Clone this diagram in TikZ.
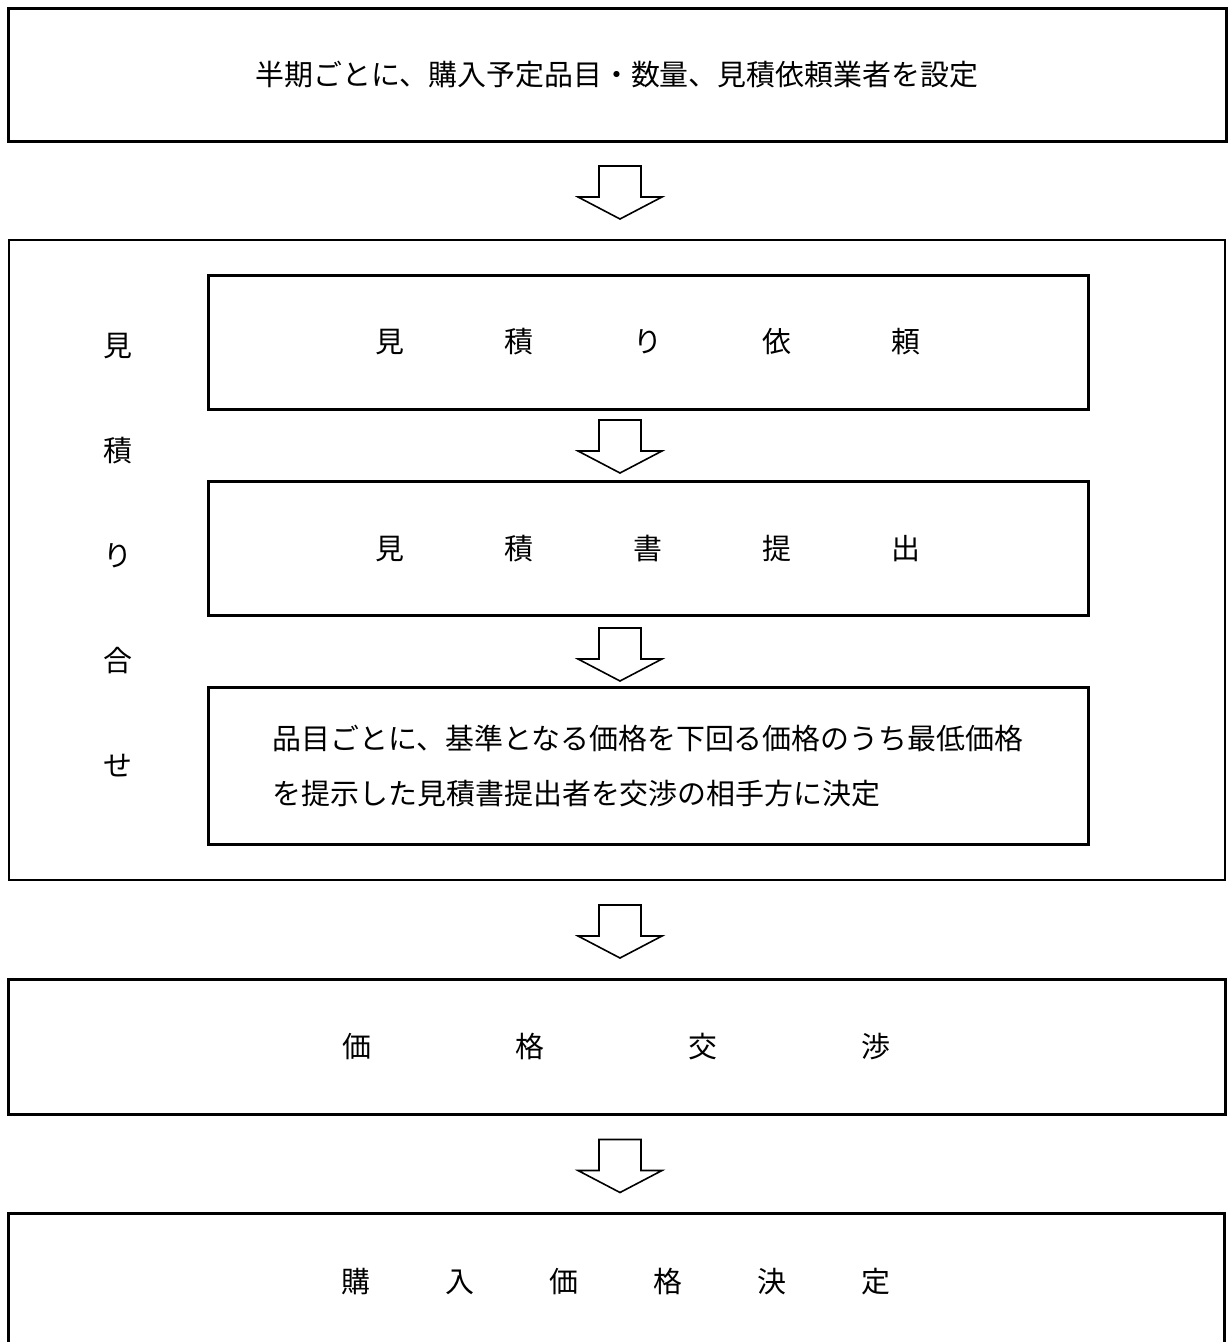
\documentclass[tikz,border=0pt]{standalone}
\usepackage{fontspec}
\newfontfamily\jp{Noto Sans CJK JP}
\usepackage{tikz}
\usetikzlibrary{positioning,calc}

\tikzset{
  bigbox/.style={draw, line width=2.25pt, rectangle, minimum width=913.5pt, minimum height=99.75pt, inner sep=0pt},
  stepbox/.style={draw, line width=2.25pt, rectangle, minimum width=660pt, minimum height=100.5pt, inner sep=0pt},
  groupbox/.style={draw, line width=1pt, rectangle, minimum width=912pt, minimum height=480pt, inner sep=0pt},
  arrowshape/.style={draw, line width=1.2pt, fill=white, line join=miter}
}
% block arrow, centred on a named coordinate
\newcommand{\flowarrow}[1]{\draw[arrowshape] ($(#1)+(-21,-26.5)$) -- ++(0,31) -- ++(-21,0) -- ++(42,22) -- ++(42,-22) -- ++(-21,0) -- ++(0,-31) -- cycle;}

\begin{document}
\begin{tikzpicture}[x=0.75pt, y=-0.75pt, font=\jp\fontsize{21.7pt}{26pt}\selectfont]
\useasboundingbox (0,0) rectangle (1228,1342);
\clip (0,0) rectangle (1228,1342);
\fill[white] (0,0) rectangle (1228,1342);

\node[bigbox] (plan) at (617,74.5) {半期ごとに、購入予定品目・数量、見積依頼業者を設定};

\node[groupbox] (group) at (617,560) {};
\node[align=center, inner sep=0pt, font=\jp\fontsize{21.7pt}{78.75pt}\selectfont] (side) at (118,555.5) {見\\積\\り\\合\\せ};

\node[stepbox] (req) at (648,342) {見\hspace{75pt}積\hspace{75pt}り\hspace{75pt}依\hspace{75pt}頼};
\node[stepbox] (quote) at (648,548.5) {見\hspace{75pt}積\hspace{75pt}書\hspace{75pt}提\hspace{75pt}出};
\node[stepbox, minimum height=117.75pt, align=left, font=\jp\fontsize{21.7pt}{41.25pt}\selectfont] (pick) at (648,765.5)
  {品目ごとに、基準となる価格を下回る価格のうち最低価格\\を提示した見積書提出者を交渉の相手方に決定};

\node[bigbox, minimum width=912.75pt, minimum height=101.25pt] (nego) at (616.5,1046.5) {価\hspace{108pt}格\hspace{108pt}交\hspace{108pt}渉};
\node[bigbox, minimum width=912pt, minimum height=103.5pt] (final) at (616,1282) {購\hspace{56.25pt}入\hspace{56.25pt}価\hspace{56.25pt}格\hspace{56.25pt}決\hspace{56.25pt}定};

\coordinate (a1) at (620,192.5);
\coordinate (a2) at (620,446.5);
\coordinate (a3) at (620,654.5);
\coordinate (a4) at (620,931.5);
\coordinate (a5) at (620,1166);
\flowarrow{a1}
\flowarrow{a2}
\flowarrow{a3}
\flowarrow{a4}
\flowarrow{a5}
\end{tikzpicture}
\end{document}
